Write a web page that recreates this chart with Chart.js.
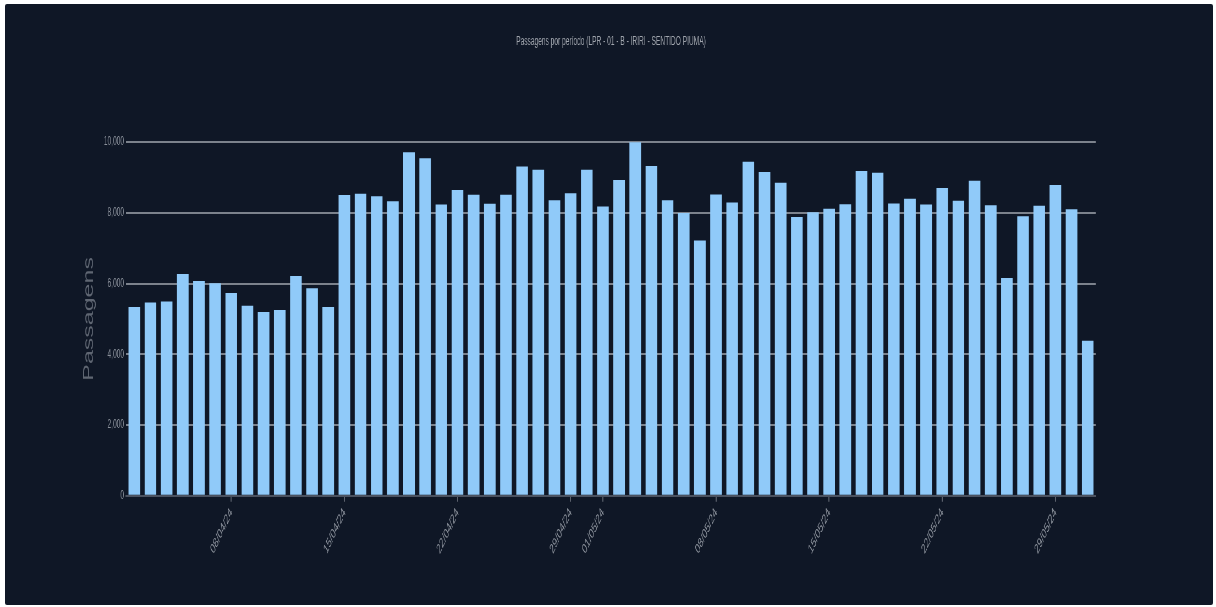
<!DOCTYPE html>
<html><head><meta charset="utf-8">
<script src="https://cdn.jsdelivr.net/npm/chart.js@4/dist/chart.umd.min.js"></script>
<style>
html,body{margin:0;padding:0;background:#ffffff;width:1216px;height:607px;overflow:hidden}
#card{position:absolute;left:5px;top:4px;width:1208px;height:601px;background:#0f1726;border-radius:2px;overflow:hidden}
#wrap{position:absolute;left:0;top:0;width:2196px;height:601px;transform:scaleX(0.55);transform-origin:0 0}
</style></head><body>
<div id="card"><div id="wrap"><canvas id="c"></canvas></div></div>
<script>
const chartTitle = 'Passagens por período (LPR - 01 - B - IRIRI - SENTIDO PIUMA)';
const yAxisTitle = 'Passagens';
const dates = [
  '02/04/24','03/04/24','04/04/24','05/04/24','06/04/24','07/04/24','08/04/24','09/04/24','10/04/24','11/04/24',
  '12/04/24','13/04/24','14/04/24','15/04/24','16/04/24','17/04/24','18/04/24','19/04/24','20/04/24','21/04/24',
  '22/04/24','23/04/24','24/04/24','25/04/24','26/04/24','27/04/24','28/04/24','29/04/24','30/04/24','01/05/24',
  '02/05/24','03/05/24','04/05/24','05/05/24','06/05/24','07/05/24','08/05/24','09/05/24','10/05/24','11/05/24',
  '12/05/24','13/05/24','14/05/24','15/05/24','16/05/24','17/05/24','18/05/24','19/05/24','20/05/24','21/05/24',
  '22/05/24','23/05/24','24/05/24','25/05/24','26/05/24','27/05/24','28/05/24','29/05/24','30/05/24','31/05/24'
];
const passagens = [
  5334, 5467, 5496, 6270, 6071, 6006, 5731, 5373, 5193, 5250,
  6213, 5864, 5334, 8499, 8536, 8470, 8329, 9708, 9538, 8235,
  8640, 8507, 8252, 8507, 9311, 9216, 8357, 8555, 9216, 8178,
  8924, 9990, 9320, 8357, 7997, 7215, 8518, 8291, 9443, 9150,
  8847, 7884, 8017, 8111, 8244, 9178, 9131, 8263, 8395, 8235,
  8697, 8338, 8904, 8215, 6157, 7904, 8196, 8782, 8102, 4382
];
const shownTicks = ['08/04/24','15/04/24','22/04/24','29/04/24','01/05/24','08/05/24','15/05/24','22/05/24','29/05/24'];
const yMin = 0, yMax = 10000, yStep = 2000;

new Chart(document.getElementById('c'), {
  type: 'bar',
  data: {
    labels: dates,
    datasets: [{
      label: yAxisTitle,
      data: passagens,
      backgroundColor: '#90caf9',
      borderWidth: 0
    }]
  },
  options: {
    responsive: true,
    maintainAspectRatio: false,
    animation: false,
    devicePixelRatio: 1,
    locale: 'en-US',
    layout: { padding: { left: 133.7, right: 212.8, top: 0, bottom: 44.6 } },
    plugins: {
      legend: { display: false },
      tooltip: { enabled: false },
      title: {
        display: true,
        fullSize: false,
        text: chartTitle,
        color: '#a0a5ad',
        font: { family: 'Arial, Helvetica, sans-serif', size: 12, weight: 'normal' },
        padding: { top: 30, bottom: 93.6 }
      }
    },
    scales: {
      x: {
        offset: true,
        grid: {
          display: true,
          offset: false,
          drawOnChartArea: false,
          drawTicks: true,
          tickLength: 6,
          lineWidth: 2,
          color: (ctx) => (ctx.tick && ctx.tick.label) ? '#5b616c' : 'rgba(0,0,0,0)'
        },
        border: { display: true, color: '#4b5260', width: 2 },
        ticks: {
          autoSkip: false,
          minRotation: 50,
          maxRotation: 50,
          padding: 3,
          color: '#8a909a',
          font: { family: 'Arial, Helvetica, sans-serif', size: 14 },
          callback: function (value, index) {
            const lab = dates[index];
            return shownTicks.includes(lab) ? lab : '';
          }
        }
      },
      y: {
        min: yMin,
        max: yMax,
        grid: { color: '#7c828c', lineWidth: 2, drawTicks: false },
        border: { display: false },
        ticks: {
          stepSize: yStep,
          padding: 4,
          color: '#8a909a',
          font: { family: 'Arial, Helvetica, sans-serif', size: 12 },
          callback: (v) => Number(v).toLocaleString('en-US')
        },
        title: {
          display: true,
          text: yAxisTitle,
          color: '#5f6672',
          font: { family: 'Arial, Helvetica, sans-serif', size: 25, weight: 'normal' },
          padding: { top: 4, bottom: 8 }
        }
      }
    }
  }
});
</script>
</body></html>
